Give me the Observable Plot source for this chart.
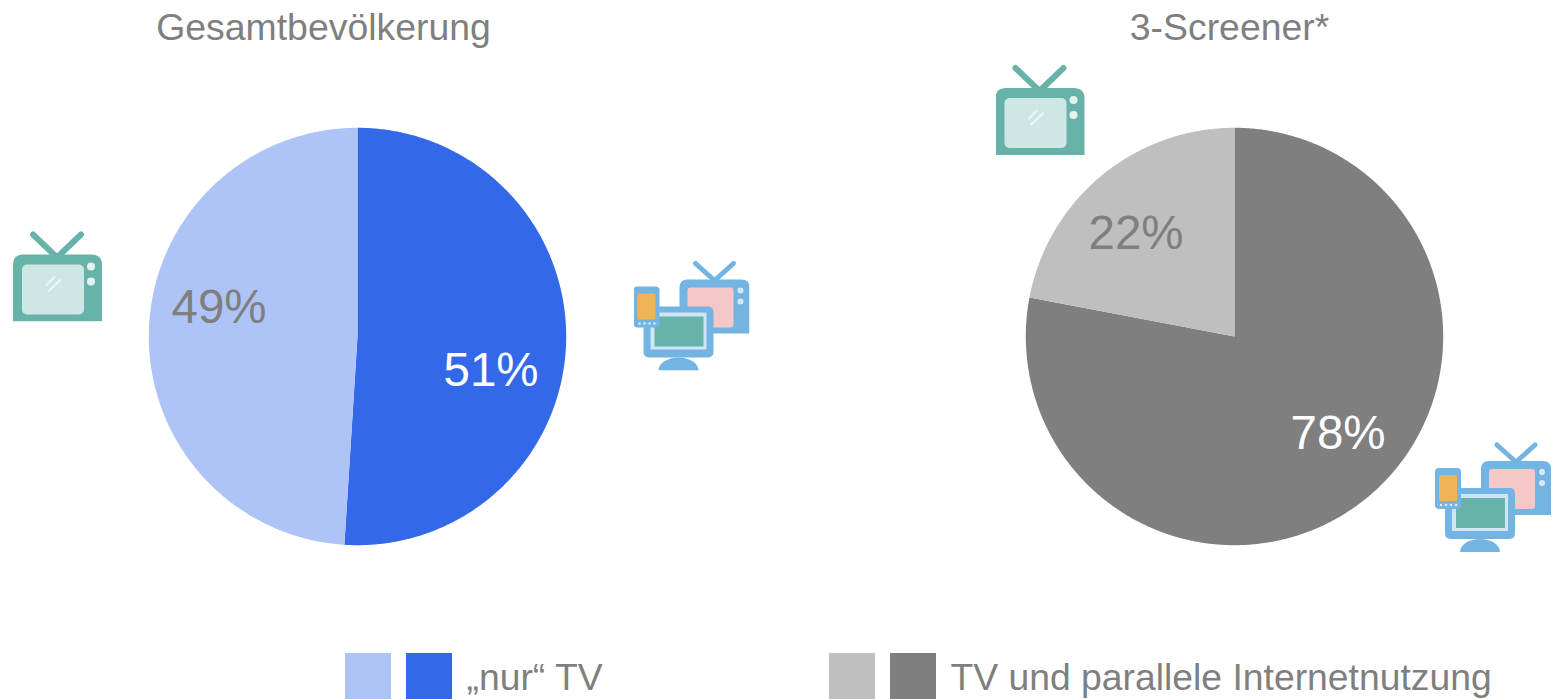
<!DOCTYPE html>
<html>
<head>
<meta charset="utf-8">
<script src="https://cdn.jsdelivr.net/npm/d3@7"></script>
<script src="https://cdn.jsdelivr.net/npm/@observablehq/plot@0.6"></script>
<style>html,body{margin:0;padding:0;background:#fff;overflow:hidden}svg{display:block}</style>
</head>
<body>
<div id="chart"></div>
<script>
// Data
const pieTitles = ["Gesamtbevölkerung", "3-Screener*"];
const pieValuesLeft = [51, 49];
const pieValuesRight = [78, 22];
const pieLabelsLeft = ["51%", "49%"];
const pieLabelsRight = ["78%", "22%"];
const legendLabels = ["„nur“ TV", "TV und parallele Internetnutzung"];

// Styles and layout
const gray = "#7f7f7f";
const font = "'Liberation Sans', Arial, sans-serif";
const W = 1553, H = 699, R = 208.7, CY = 336;
const pies = [
  {cx: 357, values: pieValuesLeft, labels: pieLabelsLeft, colors: ["#3369e8", "#aec4f6"], labelXY: [[491, 370], [219, 307]], labelFill: ["#fff", gray], titleX: 323},
  {cx: 1234, values: pieValuesRight, labels: pieLabelsRight, colors: ["#7f7f7f", "#bfbfbf"], labelXY: [[1338, 433], [1136, 233]], labelFill: ["#fff", gray], titleX: 1229}
];

// Slices as outlines computed from the values
const slices = pies.flatMap((p, pi) =>
  d3.pie().sort(null)(p.values).flatMap((a, si) => {
    const n = Math.ceil((a.endAngle - a.startAngle) * 180 / Math.PI * 2);
    const pts = [{x: p.cx, y: CY, key: `${pi}-${si}`, fill: p.colors[si]}];
    for (let i = 0; i <= n; ++i) {
      const t = a.startAngle + (a.endAngle - a.startAngle) * i / n;
      pts.push({x: p.cx + R * Math.sin(t), y: CY - R * Math.cos(t), key: `${pi}-${si}`, fill: p.colors[si]});
    }
    return pts;
  })
);

const labels = pies.flatMap(p => p.labels.map((text, i) => ({text, x: p.labelXY[i][0], y: p.labelXY[i][1], fill: p.labelFill[i]})));
const titles = pies.map((p, i) => ({text: pieTitles[i], x: p.titleX, y: 28}));
const swatches = [
  {x: 345, fill: pies[0].colors[1]}, {x: 406, fill: pies[0].colors[0]},
  {x: 829, fill: pies[1].colors[1]}, {x: 890, fill: pies[1].colors[0]}
];
const legendText = [{text: legendLabels[0], x: 466}, {text: legendLabels[1], x: 950}];

// Pictograms
const svgUri = s => "data:image/svg+xml;charset=utf-8," + encodeURIComponent(s);
const soft = `<filter id="b" x="-5%" y="-5%" width="110%" height="110%"><feGaussianBlur stdDeviation="0.55"/></filter>`;
const tvSvg = `<svg xmlns="http://www.w3.org/2000/svg" viewBox="0 0 90 91" width="90" height="91">${soft}<g filter="url(#b)">
<path d="M20 4 L44 27 L68 4" fill="none" stroke="#68b3a9" stroke-width="6" stroke-linecap="round" stroke-linejoin="round"/>
<path d="M0 91 V34 Q0 24 10 24 H78 Q89 24 89 34 V91 Z" fill="#68b3a9"/>
<rect x="9" y="34" width="62" height="50" rx="5" fill="#cfe7e4"/>
<circle cx="78" cy="36" r="4" fill="#e4f2f0"/><circle cx="78" cy="51" r="4" fill="#e4f2f0"/>
<path d="M33 55 L42 46 M35 61 L48 49" stroke="#eef7f6" stroke-width="2"/>
</g></svg>`;
const multiSvg = `<svg xmlns="http://www.w3.org/2000/svg" viewBox="0 0 116 110" width="116" height="110">${soft}<g filter="url(#b)">
<path d="M62 3 L81 20 L100 3" fill="none" stroke="#73b4e3" stroke-width="5" stroke-linecap="round" stroke-linejoin="round"/>
<path d="M46 73 V27 Q46 19 54 19 H108 Q116 19 116 27 V73 Z" fill="#73b4e3"/>
<rect x="54" y="27" width="46" height="40" rx="3" fill="#f3c8c7"/>
<circle cx="107" cy="30" r="3" fill="#d6e9f6"/><circle cx="107" cy="41" r="3" fill="#d6e9f6"/>
<rect x="10" y="46" width="70" height="51" rx="5" fill="#73b4e3"/>
<rect x="17" y="52" width="56" height="37" fill="#cfe6f6"/>
<rect x="21" y="56" width="49" height="30" fill="#68b3a9"/>
<path d="M25 110 A20 13 0 0 1 65 110 Z" fill="#73b4e3"/>
<rect x="0" y="26" width="26" height="41" rx="4" fill="#73b4e3"/>
<rect x="4" y="33" width="18" height="26" fill="#efb454"/>
<g fill="#d6e9f6"><circle cx="6" cy="63" r="1.3"/><circle cx="11" cy="63" r="1.3"/><circle cx="16" cy="63" r="1.3"/><circle cx="21" cy="63" r="1.3"/></g>
</g></svg>`;
const icons = [
  {src: svgUri(tvSvg), x: 57.5, y: 275.5, w: 90, h: 91},
  {src: svgUri(multiSvg), x: 691, y: 315, w: 116, h: 110},
  {src: svgUri(tvSvg), x: 1040, y: 109, w: 90, h: 91},
  {src: svgUri(multiSvg), x: 1492.5, y: 496.5, w: 116, h: 110}
];

const textStyle = {fontFamily: font, stroke: "none"};

const chart = Plot.plot({
  width: W, height: H,
  margin: 0,
  style: {background: "#fff"},
  x: {type: "linear", domain: [0, W], range: [0, W], axis: null},
  y: {type: "linear", domain: [0, H], range: [0, H], axis: null},
  color: {type: "identity"},
  marks: [
    Plot.line(slices, {x: "x", y: "y", z: "key", fill: "fill", stroke: "none"}),
    Plot.image(icons, {x: "x", y: "y", width: "w", height: "h", src: "src"}),
    Plot.text(titles, {x: "x", y: "y", text: "text", fill: gray, fontSize: 37.4, ...textStyle}),
    Plot.text(labels, {x: d => d.x - 0.5, y: "y", text: "text", fill: "fill", fontSize: 47.5, ...textStyle}),
    Plot.rect(swatches, {x1: "x", x2: d => d.x + 46, y1: () => 653, y2: () => 699, fill: "fill"}),
    Plot.text(legendText, {x: "x", y: () => 678, text: "text", fill: gray, fontSize: 37.3, textAnchor: "start", ...textStyle})
  ]
});
document.getElementById("chart").append(chart);
</script>
</body>
</html>
